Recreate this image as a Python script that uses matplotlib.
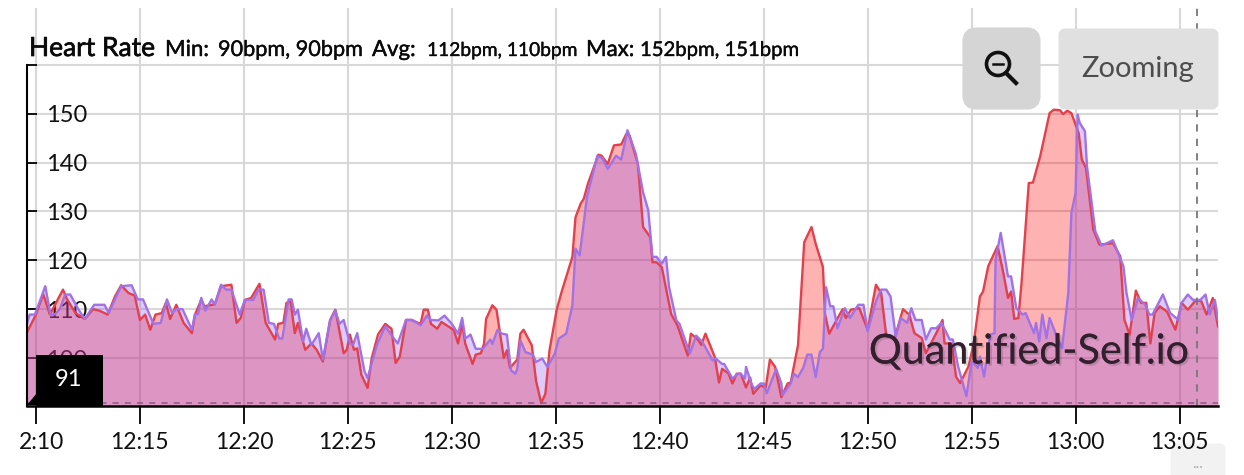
import matplotlib
matplotlib.use("Agg")
import matplotlib.pyplot as plt
import matplotlib.patheffects as pe
from matplotlib.patches import FancyBboxPatch, Rectangle, Circle, Polygon
from matplotlib.lines import Line2D
from matplotlib.transforms import ScaledTranslation

# minutes past 12:00
red_t = [9.55,10,10.35,10.67,11.3,11.5,11.9,12.35,12.75,13.05,13.45,13.8,14.1,14.45,14.75,15,15.25,15.5,15.75,16.05,16.25,16.45,16.75,17.1,17.5,17.65,17.95,18.1,18.6,18.9,19.4,19.65,19.85,20.05,20.35,20.75,21.05,21.5,21.65,21.9,22.05,22.25,22.45,22.6,22.95,23.25,23.5,23.8,24.15,24.4,24.8,24.95,25.1,25.3,25.45,25.65,25.95,26.15,26.45,26.8,27.1,27.3,27.5,27.8,28.05,28.5,28.65,28.85,29,29.3,29.5,29.9,30.1,30.3,30.5,30.65,31,31.15,31.4,31.55,31.65,31.95,32.15,32.5,32.65,32.8,33.15,33.3,33.45,33.85,34.05,34.3,34.5,34.7,35.05,35.3,35.8,35.95,36.2,36.35,36.55,37.05,37.2,37.5,37.8,38.15,38.4,38.55,38.95,39.2,39.55,39.65,39.85,40.1,40.55,40.85,41.35,41.5,41.85,42,42.2,42.65,42.85,43,43.3,43.5,43.7,43.9,44.15,44.35,44.5,44.85,45.1,45.3,45.55,45.85,46.15,46.3,46.65,46.95,47.3,47.5,47.85,47.95,48.15,48.65,48.8,48.95,49.2,49.6,50,50.4,50.65,50.9,51.3,51.7,52,52.25,52.6,52.8,53.3,53.6,53.7,54.05,54.25,54.45,54.85,55.1,55.4,55.55,55.8,56.25,56.5,56.75,56.9,57.05,57.25,57.4,57.75,57.95,58.3,58.75,58.95,59.25,59.4,59.6,59.8,60.15,60.3,60.5,60.85,61.15,61.8,62.15,62.35,62.6,62.9,63.15,63.4,63.6,63.8,64.05,64.4,64.8,65.1,65.4,65.8,66.05,66.3,66.6,66.85]
red_bpm = [105.1,108.9,113.1,108.9,114,112,109.2,108,110,109.7,108.9,112.6,114.9,113.3,112.8,107.8,108.9,105.8,108.9,109.2,111.3,108,110.9,107.2,105.1,108.9,111.9,110.6,111,114.7,115,107.2,108.2,111.9,112.3,115.2,107.2,103.8,107,107.2,111.3,111.6,105.1,107.2,101.7,103,101.7,99.3,107.8,109.9,101,101.7,104.8,101.7,102,96.6,93.9,100,104.8,107,106,99,100.3,107.8,107.8,107,109.9,109.9,107,106,107.4,106.3,105.7,103,107,102.9,98.8,100.7,101,102.9,108,110.8,109.9,100,101.6,98,99.7,105,105.8,102.6,95.4,90.8,92.7,101.6,110,113.8,120.7,128.8,131.6,132.6,135.7,141.6,141.4,139.7,143.5,143.7,145.9,145.5,139.7,126.8,124.7,119.6,119.6,118.6,109,106.7,100.5,105,103.7,102.7,105,100.2,95,97.8,96.9,94.8,96.8,96.8,94,96,92.7,94.4,94,99.7,98.2,92,94.8,95,102.6,123.7,126.8,123.4,118.6,109,105,108.9,110,108.2,109.9,110.2,105.8,115,113.3,104.4,104.1,110,108.9,105.1,104.1,101,105.1,107.8,103,103,96.2,94.9,98.3,103,112.6,113.6,118.8,122.9,118,112.3,113.6,108,108.2,115.3,135.8,135.9,141.3,150.1,150.8,150.7,149.9,150.6,150.1,146,140.6,138.9,126.3,123.2,123.5,120.8,107.8,104.8,113.8,111.3,111.3,103,109.2,110.6,109.5,105.8,111.3,109.9,111.9,111.6,108.9,112.3,106.5]

purple_t = [9.55,9.7,9.95,10.45,10.7,10.9,11.15,11.4,11.65,12.05,12.35,12.8,13.3,13.5,13.8,14.1,14.6,14.9,15.15,15.65,16,16.3,16.55,16.75,17.05,17.5,17.65,17.8,17.95,18.15,18.45,18.6,18.9,19.15,19.4,19.8,20.05,20.45,20.7,20.95,21.2,21.45,21.7,21.85,22.15,22.3,22.45,22.6,22.85,23,23.25,23.6,23.8,24.15,24.4,24.6,24.8,25.1,25.25,25.45,25.8,25.95,26.4,26.8,27.25,27.4,27.8,28.1,28.5,28.8,29,29.35,29.65,30,30.3,30.5,30.65,30.9,31.15,31.5,31.85,31.95,32.2,32.4,32.65,32.85,33.05,33.15,33.3,33.55,33.9,34.05,34.35,34.6,34.95,35.15,35.5,35.8,35.95,36.15,36.5,36.7,37,37.25,37.5,37.9,38.15,38.45,38.85,39.2,39.45,39.65,39.85,40.1,40.3,40.45,40.8,40.95,41.45,41.75,42.05,42.55,42.7,43,43.1,43.5,43.75,43.9,44.1,44.15,44.4,44.55,44.85,45,45.15,45.6,45.85,45.9,46.3,46.45,46.65,46.9,47.1,47.3,47.5,47.7,47.85,48,48.2,48.35,48.55,48.9,49.15,49.55,49.8,50,50.4,50.65,50.9,51.1,51.35,51.6,51.9,52.1,52.3,52.6,52.8,53.05,53.3,53.55,53.95,54.1,54.35,54.75,55,55.3,55.4,55.6,55.9,56.1,56.15,56.4,56.75,56.9,57.15,57.45,57.6,58,58.1,58.25,58.4,58.6,58.75,59.1,59.35,59.65,59.8,60,60.1,60.2,60.45,60.55,60.95,61.25,61.8,62.3,62.45,62.7,63,63.35,63.55,63.7,64.2,64.55,64.95,65.1,65.4,65.65,66,66.25,66.45,66.7,66.85]
purple_bpm = [106.8,108.9,108.9,114.7,108.9,108.9,110,113,113,109.9,108,110.9,110.9,109.2,112,114.7,114.9,112,112,107,107.2,112,109.2,110,110,105.8,109,109,112.3,109.7,112,110.9,115,114,114,108.9,111.9,111.9,114,114,107.2,107,104,104,112,112,108.9,109.9,103.4,106,102.7,105.1,99.7,107.8,109.7,107,107.8,103,102.7,105.1,97.3,95.9,102.7,106.5,103.8,103,107.8,107.8,106.7,108.7,107.8,107.7,108.7,107,105,108.2,104,104.8,101.9,101.9,103.8,102.9,105.8,105,104.8,97.5,96.8,97.8,103.6,101.2,100.7,99.2,99.9,98.2,100.9,104,105,110.8,122.4,121,132.9,136.3,141.4,140.8,138.7,141.4,140.6,146.6,141.8,133.9,130.2,120.7,120.7,119.3,120.7,114.5,107.7,107,100.9,104.6,103.3,99.5,99.9,98.8,98.8,95.8,96.8,96.8,95.8,98.2,94.8,93.7,94.8,94.8,92.8,97.8,94.8,92.4,94.8,96.8,96.1,98,100.7,100.7,96.1,101.2,101.9,114.5,110.6,110.6,106.1,110.2,108.2,110.9,110.9,105.5,111.6,114,114,112.6,104.4,108.2,107.2,110.2,107.8,107.8,103.8,106.1,106.1,107.2,103.8,103.8,98.3,92.2,99.3,98,100.3,96.2,104.8,105.1,120.1,125.6,116.7,116.7,110.2,108.9,109.2,105.1,107.2,103.4,108.9,104.1,108.2,104.4,102,113.3,129.7,133.8,149.8,148.1,146.4,139.2,125.9,123,124.1,118.8,113.3,107.8,112.3,110.9,108.9,108.9,113,109.2,107.8,111.3,113,111.9,111.9,113,108.9,111.9,107.8]

x_ticks = [10, 15, 20, 25, 30, 35, 40, 45, 50, 55, 60, 65]
x_labels = ["2:10", "12:15", "12:20", "12:25", "12:30", "12:35", "12:40", "12:45", "12:50", "12:55", "13:00", "13:05"]
y_ticks = [100, 110, 120, 130, 140, 150, 160]
y_labels = ["100", "110", "120", "130", "140", "150", ""]
min_line = 90.8
cursor_t = 65.85

FONT = "Lato"
W, H = 1244, 475

fig = plt.figure(figsize=(W / 100, H / 100), dpi=100, facecolor="white")
ax = fig.add_axes([27 / W, 1 - 406 / H, (1218 - 27) / W, (406 - 8) / H])
ax.set_xlim(9.57, 66.85)
ax.set_ylim(90.2, 171.6)

ax.set_axisbelow(True)
ax.grid(True, color="#d8d8d8", linewidth=1.5)

ax.fill_between(red_t, red_bpm, 90.2, color="#ff0000", alpha=0.3, linewidth=0)
ax.fill_between(purple_t, purple_bpm, 90.2, color="#9158ee", alpha=0.3, linewidth=0)
ax.plot(red_t, red_bpm, color="#e2404c", linewidth=1.7)
ax.plot(purple_t, purple_bpm, color="#a172e6", linewidth=1.7)

ax.axhline(min_line, color="#8a5a86", linewidth=1.1, dashes=(4, 4))
ax.axvline(cursor_t, color="#777777", linewidth=1.3, dashes=(4, 4))

for s in ["top", "right"]:
    ax.spines[s].set_visible(False)
ax.spines["left"].set_bounds(90.2, 160)
ax.spines["left"].set_linewidth(1.5)
ax.spines["bottom"].set_linewidth(1.8)

ax.set_xticks(x_ticks)
ax.set_xticklabels(x_labels, fontsize=16.5, family=FONT, color="#111111")
ax.tick_params(axis="x", length=13, width=1.3, pad=5.5)
ax.set_yticks(y_ticks)
ax.set_yticklabels(y_labels, fontsize=17, family=FONT, color="#111111", ha="left")
ax.tick_params(axis="y", direction="in", length=7, width=1.3, pad=-13.5)

# the first label is cut off on the left in the original, nudge it over
first = ax.get_xticklabels()[0]
first.set_transform(first.get_transform() + ScaledTranslation(6 / 100, 0, fig.dpi_scale_trans))

# overlay in pixel coordinates for the ui bits
ui = fig.add_axes([0, 0, 1, 1], facecolor="none")
ui.set_xlim(0, W)
ui.set_ylim(H, 0)
ui.axis("off")

# sits behind the axes so the 13:05 label stays on top
fig.add_artist(FancyBboxPatch((1172, 445), 52, 32, boxstyle="round,pad=0,rounding_size=4",
                              facecolor="#f2f2f2", edgecolor="#f2f2f2", linewidth=2,
                              transform=ui.transData, zorder=-1))

parts = [
    (29, "Heart Rate", 19, 0.5),
    (165, "Min:", 16, 0.3),
    (218, "90bpm, 90bpm", 15.6, 0.25),
    (372, "Avg:", 16, 0.3),
    (427, "112bpm, 110bpm", 13.8, 0.25),
    (586, "Max:", 16, 0.3),
    (640, "152bpm, 151bpm", 14.6, 0.25),
]
for x, txt, size, stroke in parts:
    t = ui.text(x, 56, txt, fontsize=size, family=FONT, color="#0a0a0a", va="baseline")
    t.set_path_effects([pe.withStroke(linewidth=stroke, foreground="#0a0a0a")])

ui.add_patch(FancyBboxPatch((968, 33), 67, 71, boxstyle="round,pad=0,rounding_size=8",
                            facecolor="#d5d5d5", edgecolor="#d5d5d5", linewidth=8))
ui.add_patch(FancyBboxPatch((1062, 32), 153, 74, boxstyle="round,pad=0,rounding_size=3",
                            facecolor="#e0e0e0", edgecolor="#e0e0e0", linewidth=5))
ui.text(1138, 69.5, "Zooming", fontsize=21, family=FONT, color="#4d4d4d", ha="center", va="center")

ui.add_patch(Circle((998, 64), 11.5, facecolor="none", edgecolor="#111111", linewidth=2.6))
ui.add_line(Line2D([1006, 1016], [73, 83], color="#111111", linewidth=3))
ui.add_line(Line2D([993, 1003], [64, 64], color="#111111", linewidth=1.8))

ui.add_patch(Rectangle((36, 355), 67, 52, facecolor="black", edgecolor="none"))
ui.add_patch(Polygon([[27, 405], [37, 393], [37, 405]], closed=True, facecolor="black", edgecolor="none"))
ui.text(69, 380, "91", fontsize=17, family=FONT, color="white", ha="center", va="center")

wm = ui.text(1029, 352, "Quantified-Self.io", fontsize=29.7, family=FONT, color="#33202e",
             ha="center", va="center", alpha=0.95)
wm.set_path_effects([pe.withSimplePatchShadow(offset=(1.5, -1.5), alpha=0.2, shadow_rgbFace="#333333"), pe.Normal()])

ui.text(1198, 464, "...", fontsize=11, family=FONT, color="#aaaaaa", ha="center", va="center")

fig.savefig("out.png", dpi=100, facecolor="white")
